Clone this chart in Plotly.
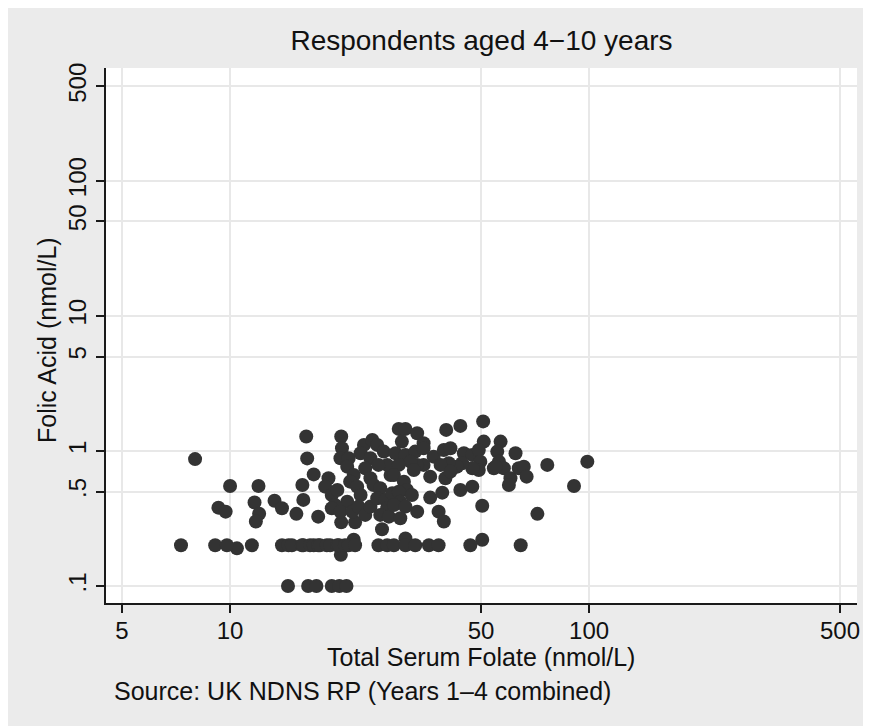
import plotly.graph_objects as go

# ---- data ----
# scattered respondents: total serum folate (nmol/L) and folic acid (nmol/L)
folate_scatter = [
    7.99, 10.0, 12.0, 9.28, 9.72, 11.7, 12.05, 11.8, 13.3, 13.95, 15.3, 15.9, 16.3, 16.4, 17.1, 17.6,
    20.4, 16.0, 20.4, 22.3, 26.5, 18.8, 18.4, 19.2, 19.9, 20.5, 20.3, 21.4, 21.2, 22.1, 21.6, 22.6,
    23.1, 21.2, 19.6, 19.2, 20.3, 21.9, 22.8, 23.8, 24.6, 23.6, 23.1, 24.9, 25.7, 26.8, 24.6, 23.8,
    24.6, 25.1, 26.2, 25.7, 27.1, 27.4, 26.2, 27.7, 28.0, 28.3, 27.4, 25.9,
    50.7, 43.8, 40.0, 29.5, 30.8, 33.2, 30.1, 34.6, 50.9, 56.7, 62.4, 28.9, 30.8, 32.8, 34.6, 36.9,
    39.4, 41.1, 44.8, 47.3, 49.3, 49.8, 55.5, 56.1, 54.3, 57.9, 60.4, 59.8, 63.7, 49.3, 47.3, 44.3,
    42.9, 40.7, 38.6, 39.8, 41.1, 36.1, 34.6, 33.2, 31.8, 29.5, 28.6, 30.5, 32.5, 31.1, 29.5, 32.1,
    29.8, 28.6, 30.8, 29.8, 33.2, 36.1, 39.0, 43.8, 47.3, 50.4, 38.1, 39.4, 65.8, 67.0, 76.5, 98.9,
    90.8, 71.8, 54.9,
    22.1, 30.8, 50.4, 20.35, 10.45,
]
folic_scatter = [
    0.87, 0.55, 0.55, 0.38, 0.355, 0.415, 0.343, 0.30, 0.428, 0.376, 0.342, 0.56, 1.28, 0.88, 0.67, 0.326,
    1.28, 0.434, 0.296, 0.296, 0.263, 0.628, 0.544, 0.472, 0.514, 1.047, 0.883, 0.883, 0.765, 0.664, 0.592, 0.544,
    0.472, 0.421, 0.398, 0.376, 0.355, 0.355, 0.387, 0.336, 0.387, 1.108, 0.962, 1.206, 1.108, 0.988, 0.883, 0.745,
    0.628, 0.56, 0.529, 0.446, 0.434, 0.376, 0.336, 0.326, 0.664, 0.486, 0.788, 0.788,
    1.654, 1.532, 1.431, 1.455, 1.455, 1.352, 1.172, 1.14, 1.172, 1.172, 0.962, 0.962, 0.934, 0.988, 1.047, 0.907,
    1.017, 1.047, 0.962, 0.934, 1.017, 0.833, 0.988, 0.833, 0.745, 0.745, 0.628, 0.56, 0.745, 0.723, 0.745, 0.811,
    0.765, 0.811, 0.788, 0.628, 0.703, 0.645, 0.788, 0.788, 0.833, 0.788, 0.664, 0.592, 0.723, 0.514, 0.499, 0.472,
    0.421, 0.398, 0.387, 0.317, 0.355, 0.451, 0.491, 0.514, 0.544, 0.393, 0.355, 0.30, 0.765, 0.645, 0.788, 0.833,
    0.55, 0.342, 0.765,
    0.22, 0.225, 0.22, 0.17, 0.19,
]
# respondents at the folic acid value 0.2 nmol/L
folate_at_02 = [
    7.3, 9.09, 9.8, 11.5, 13.95, 14.55, 14.87, 15.86, 16.0, 16.7, 17.1, 17.6, 17.8, 18.6, 19.0, 19.9,
    20.1, 20.9, 21.4, 22.3, 25.9, 27.4, 28.6, 30.8, 32.8, 35.8, 38.1, 46.7, 64.5,
]
# respondents at the folic acid value 0.1 nmol/L
folate_at_01 = [14.5, 16.5, 17.4, 19.2, 20.15, 21.1]

x_ticks = [5, 10, 50, 100, 500]
x_ticktext = ["5", "10", "50", "100", "500"]
y_ticks = [0.1, 0.5, 1, 5, 10, 50, 100, 500]
y_ticktext = [".1", ".5", "1", "5", "10", "50", "100", "500"]

title_text = "Respondents aged 4\u221210 years"
x_title = "Total Serum Folate (nmol/L)"
y_title = "Folic Acid (nmol/L)"
source_text = "Source: UK NDNS RP (Years 1\u20134 combined)"

# ---- build ----
xs = folate_scatter + folate_at_02 + folate_at_01
ys = folic_scatter + [0.2] * len(folate_at_02) + [0.1] * len(folate_at_01)

FONT = "Liberation Sans, Arial, Helvetica, sans-serif"
OFF = 8  # page body margin
W, H = 863, 718
L, R, T, B = 98, 14, 60, 123
pw, ph = W - L - R, H - T - B

fig = go.Figure()
fig.add_trace(go.Scatter(
    x=xs, y=ys, mode="markers",
    marker=dict(size=14, color="#333333", line=dict(width=0)),
    hoverinfo="x+y", showlegend=False,
))

axis_common = dict(
    type="log", showline=True, linecolor="#1a1a1a", linewidth=2,
    ticks="outside", ticklen=8, tickwidth=1.5, tickcolor="#1a1a1a",
    showgrid=True, gridcolor="#e8e8e8", gridwidth=2, zeroline=False,
    tickfont=dict(family=FONT, size=24, color="#111"),
)

fig.update_layout(
    width=W, height=H,
    margin=dict(l=L, r=R, t=T, b=B, pad=0),
    paper_bgcolor="#ebebeb", plot_bgcolor="white",
    font=dict(family=FONT, color="#111"),
    xaxis=dict(range=[0.6544, 2.7464], tickvals=x_ticks, ticktext=x_ticktext,
               ticklabelstandoff=-3, **axis_common),
    yaxis=dict(range=[-1.126, 2.835], tickvals=y_ticks, ticktext=y_ticktext, tickangle=-90,
               **axis_common),
    title=dict(text=title_text, font=dict(family=FONT, size=28, color="#111"),
               x=(L + pw / 2) / W, xanchor="center", y=1 - (40 - OFF) / H, yanchor="middle",
               xref="container", yref="container"),
)

def px_x(p):
    return (p - OFF - L) / pw

def px_y(p):
    return (H - B - (p - OFF)) / ph

fig.add_annotation(text=x_title, xref="paper", yref="paper", x=px_x(481), y=px_y(657),
                   xanchor="center", yanchor="middle", showarrow=False,
                   font=dict(family=FONT, size=25, color="#111"))
fig.add_annotation(text=source_text, xref="paper", yref="paper", x=px_x(112), y=px_y(691),
                   xanchor="left", yanchor="middle", showarrow=False,
                   font=dict(family=FONT, size=25, color="#111"))
fig.add_annotation(text=y_title, xref="paper", yref="paper", x=px_x(47), y=px_y(340),
                   xanchor="center", yanchor="middle", showarrow=False, textangle=-90,
                   font=dict(family=FONT, size=25, color="#111"))

fig.write_html("out.html")
